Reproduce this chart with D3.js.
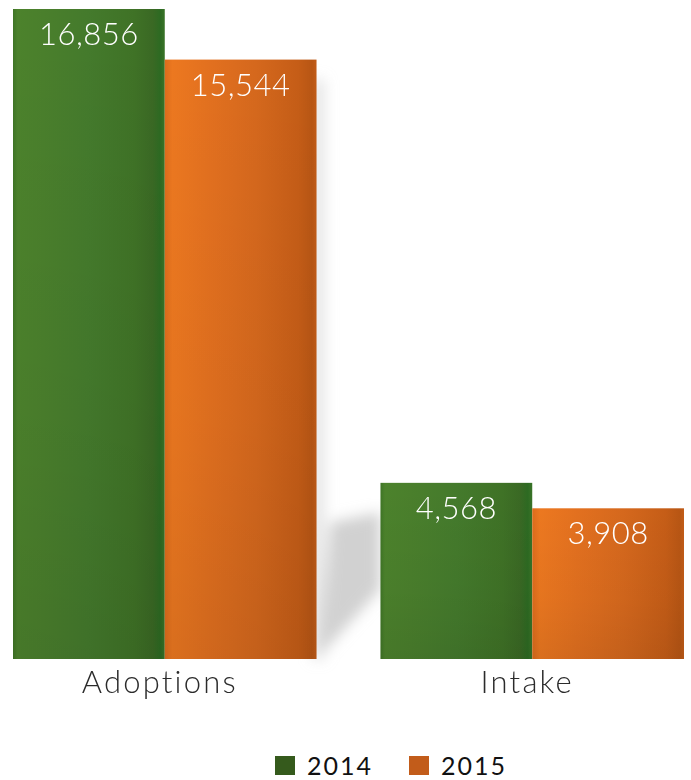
<!DOCTYPE html>
<html>
<head>
<meta charset="utf-8">
<script src="https://cdn.jsdelivr.net/npm/d3@7/dist/d3.min.js"></script>
<style>
  html, body { margin: 0; padding: 0; background: #fff; }
  svg { display: block; }
</style>
</head>
<body>
<svg id="chart" width="691" height="780"></svg>
<script>
// Shelter totals by year
const categories = ["Adoptions", "Intake"];
const years = ["2014", "2015"];
const values2014 = [16856, 4568];
const values2015 = [15544, 3908];
const seriesValues = [values2014, values2015];

const W = 691, H = 780;
const svg = d3.select("#chart");
const fontFamily = "'Lato', 'DejaVu Sans', sans-serif";

const x0 = d3.scaleBand().domain(categories).range([13, 684]).paddingInner(0.174).paddingOuter(0);
const x1 = d3.scaleBand().domain(years).range([0, x0.bandwidth()]).padding(0);
const y = d3.scaleLinear().domain([0, d3.max(values2014)]).range([659, 9]);

const defs = svg.append("defs");

// Glossy horizontal fills for each series
function barGradient(id, stops) {
  const g = defs.append("linearGradient").attr("id", id)
    .attr("x1", "0%").attr("x2", "100%").attr("y1", "0%").attr("y2", "0%");
  stops.forEach(([o, c]) => g.append("stop").attr("offset", o).attr("stop-color", c));
}
barGradient("fill2014", [
  ["0%", "#3f7526"], ["3%", "#4c822c"], ["20%", "#4a7f2c"], ["50%", "#447a2c"],
  ["80%", "#3f7226"], ["92%", "#3a6924"], ["97%", "#2d6a22"], ["100%", "#3a7428"]
]);
barGradient("fill2015", [
  ["0%", "#dc6c1c"], ["5%", "#ec7820"], ["30%", "#e2701f"], ["60%", "#d5681d"],
  ["88%", "#c55d17"], ["97%", "#b85614"], ["100%", "#c25c18"]
]);
// darker toward the base
const shade = defs.append("linearGradient").attr("id", "shade")
  .attr("x1", "0%").attr("x2", "0%").attr("y1", "0%").attr("y2", "100%");
shade.append("stop").attr("offset", "0%").attr("stop-color", "#000").attr("stop-opacity", 0.0);
shade.append("stop").attr("offset", "60%").attr("stop-color", "#000").attr("stop-opacity", 0.03);
shade.append("stop").attr("offset", "100%").attr("stop-color", "#000").attr("stop-opacity", 0.08);

const blur = defs.append("filter").attr("id", "soft").attr("x", "-50%").attr("y", "-50%").attr("width", "200%").attr("height", "200%");
blur.append("feGaussianBlur").attr("stdDeviation", 7);

// Cast shadows behind the bars
const shadowG = svg.append("g").attr("filter", "url(#soft)");
{
  const gx = x0("Intake");
  const top = y(values2015[1]);
  shadowG.append("path")
    .attr("d", `M${gx},${top + 4} L${gx - 50},${top + 14} L${gx - 60},${y(0) - 4} L${gx},${y(0) - 70} Z`)
    .attr("fill", "#c6c6c6").attr("opacity", 0.8);
  const ax = x0("Adoptions") + x0.bandwidth();
  shadowG.append("rect")
    .attr("x", ax - 4).attr("y", y(values2015[0]) + 20)
    .attr("width", 11).attr("height", y(0) - y(values2015[0]) - 20)
    .attr("fill", "#cccccc").attr("opacity", 0.6);
}

const groups = svg.append("g").selectAll("g")
  .data(categories)
  .join("g")
  .attr("transform", d => `translate(${x0(d)},0)`);

const bars = groups.selectAll("g.bar")
  .data((d, i) => years.map((yr, s) => ({ cat: d, year: yr, value: seriesValues[s][i] })))
  .join("g").attr("class", "bar");

bars.append("rect")
  .attr("x", d => x1(d.year))
  .attr("y", d => y(d.value))
  .attr("width", x1.bandwidth())
  .attr("height", d => y(0) - y(d.value))
  .attr("fill", d => `url(#fill${d.year})`);

bars.append("rect")
  .attr("x", d => x1(d.year))
  .attr("y", d => y(d.value))
  .attr("width", x1.bandwidth())
  .attr("height", d => y(0) - y(d.value))
  .attr("fill", "url(#shade)");

// value labels
bars.append("text")
  .attr("x", d => x1(d.year) + x1.bandwidth() / 2)
  .attr("y", d => y(d.value) + 36)
  .attr("text-anchor", "middle")
  .attr("fill", "#ffffff")
  .attr("font-family", fontFamily)
  .attr("font-weight", 300)
  .attr("font-size", 31)
  .attr("letter-spacing", 0.5)
  .text(d => d3.format(",")(d.value));

// category axis labels
const xAxis = d3.axisBottom(x0).tickSize(0).tickPadding(0);
const axisG = svg.append("g").attr("transform", `translate(0,${y(0)})`).call(xAxis);
axisG.select(".domain").remove();
axisG.selectAll("text")
  .attr("dy", 0)
  .attr("dx", -5)
  .attr("y", 34)
  .attr("fill", "#2b2b2b")
  .attr("font-family", fontFamily)
  .attr("font-weight", 300)
  .attr("font-size", 31)
  .attr("letter-spacing", 2.2);

// legend
const legendColors = { "2014": "#355a1c", "2015": "#c25c1a" };
const legendX = [275, 409];
const legend = svg.append("g").selectAll("g")
  .data(years).join("g")
  .attr("transform", (d, i) => `translate(${legendX[i]},756)`);
legend.append("rect").attr("width", 20).attr("height", 19).attr("fill", d => legendColors[d]);
legend.append("text")
  .attr("x", 32).attr("y", 19)
  .attr("fill", "#111")
  .attr("font-family", fontFamily)
  .attr("font-weight", 400)
  .attr("font-size", 25)
  .attr("letter-spacing", 2)
  .text(d => d);
</script>
</body>
</html>
